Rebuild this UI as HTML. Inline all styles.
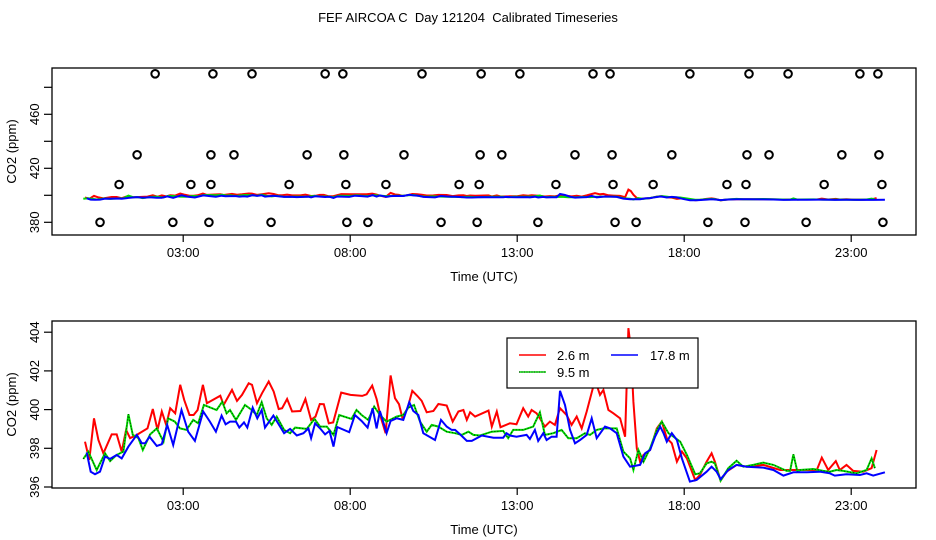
<!DOCTYPE html>
<html><head><meta charset="utf-8"><style>
html,body{margin:0;padding:0;background:#fff;}
svg{display:block;font-family:"Liberation Sans",sans-serif;}
#title{white-space:pre;}
</style></head><body>
<svg id="chart" width="936" height="540" viewBox="0 0 936 540" xmlns="http://www.w3.org/2000/svg">
<rect x="0" y="0" width="936" height="540" fill="#fff"/>
<text id="title" xml:space="preserve" x="468" y="22" font-size="13" text-anchor="middle">FEF AIRCOA C  Day 121204  Calibrated Timeseries</text>
<g id="top"></g><g id="bot"></g>
</svg>
<script>
// ---------- data ----------
const xTickHours = [3, 8, 13, 18, 23];
const xTickLabels = ["03:00", "08:00", "13:00", "18:00", "23:00"];
const topYTicks = [380, 400, 420, 440, 460, 480];
const topYLabels = ["380", "", "420", "", "460", ""];
const botYTicks = [396, 398, 400, 402, 404];
const botYLabels = ["396", "398", "400", "402", "404"];

const redHours = [0.06,0.19,0.33,0.46,0.61,0.86,1.01,1.16,1.29,1.41,1.61,1.93,2.09,2.23,2.36,2.49,2.61,2.76,2.91,3.03,3.19,3.31,3.43,3.59,3.71,4.11,4.21,4.46,4.61,4.76,4.96,5.06,5.21,5.36,5.56,5.71,5.86,5.96,6.11,6.26,6.51,6.66,6.83,6.96,7.09,7.21,7.36,7.49,7.73,8.01,8.36,8.49,8.66,8.79,8.91,9.06,9.21,9.34,9.46,9.56,9.71,9.86,10.01,10.14,10.29,10.49,10.64,10.89,11.07,11.24,11.39,11.49,11.59,11.74,12.14,12.24,12.39,12.50,12.78,12.98,13.18,13.33,13.43,13.58,13.68,13.83,13.98,14.13,14.28,14.48,14.63,14.78,14.93,15.08,15.33,15.48,15.58,15.73,15.88,16.08,16.23,16.33,16.40,16.48,16.58,16.68,16.78,16.98,17.18,17.33,17.48,17.63,17.78,17.93,18.08,18.33,18.47,18.67,18.82,18.92,19.09,19.27,19.57,19.87,20.37,20.87,21.27,21.67,21.97,22.12,22.31,22.54,22.66,22.86,23.06,23.36,23.61,23.76];
const redValues = [398.34,397.40,399.55,398.43,397.74,398.72,398.72,397.83,398.95,398.52,398.69,399.03,400.03,398.95,399.90,399.21,400.07,399.81,401.28,400.50,399.72,399.72,399.98,401.28,400.33,400.72,400.24,401.02,400.45,400.76,401.36,401.28,400.33,400.84,401.45,400.93,400.03,400.07,400.55,399.90,399.93,400.55,399.47,399.64,400.29,400.28,399.29,399.34,400.88,400.76,400.71,400.79,401.24,400.55,399.64,398.78,401.76,400.59,400.28,399.59,400.03,400.97,400.71,400.45,399.86,399.93,400.29,400.21,399.38,399.90,399.98,399.47,399.86,399.64,399.95,399.12,399.90,399.09,399.29,399.24,400.07,399.64,399.98,399.81,399.55,399.12,399.38,399.21,400.07,399.72,399.21,399.64,399.03,399.90,401.53,400.76,401.02,399.98,399.81,399.55,398.60,404.21,403.17,400.41,398.00,397.31,397.66,397.91,399.03,399.38,398.52,398.26,397.31,397.83,397.48,396.36,396.62,397.31,397.74,397.31,396.33,396.79,397.14,397.05,397.14,396.88,396.88,396.88,396.88,397.52,396.88,397.34,396.88,397.14,396.83,396.79,396.97,397.91];

const greenHours = [0.01,0.16,0.41,0.66,0.81,1.01,1.21,1.36,1.49,1.66,1.79,2.01,2.21,2.41,2.55,2.75,2.90,3.10,3.30,3.45,3.62,4.00,4.17,4.30,4.40,4.58,4.85,5.05,5.20,5.35,5.50,5.65,5.80,6.02,6.20,6.35,6.70,6.93,7.10,7.30,7.50,7.67,8.04,8.19,8.34,8.54,8.72,8.89,9.09,9.39,9.59,9.74,9.91,10.09,10.29,10.44,10.64,10.89,11.14,11.34,11.54,11.69,11.89,12.24,12.58,12.73,12.88,13.18,13.48,13.68,13.83,14.08,14.33,14.53,14.78,15.03,15.18,15.38,15.58,15.98,16.18,16.38,16.48,16.63,16.78,16.98,17.18,17.33,17.53,17.68,17.88,18.08,18.33,18.47,18.67,18.82,18.92,19.09,19.32,19.57,19.77,20.07,20.37,20.67,21.07,21.17,21.27,21.39,21.47,21.87,22.16,22.36,22.56,22.76,23.16,23.46,23.61,23.71];
const greenValues = [397.45,397.83,396.88,397.74,397.34,397.66,397.83,399.76,398.69,398.52,397.91,398.72,399.03,398.34,399.55,399.38,399.03,398.95,399.47,399.29,400.24,399.98,400.41,399.81,399.98,399.47,400.24,399.98,399.72,400.38,399.55,399.21,399.64,398.95,398.78,399.07,399.00,399.52,399.12,399.12,398.69,399.72,399.52,399.98,399.72,399.47,400.16,399.72,399.38,399.64,399.72,400.10,400.24,399.38,398.86,399.21,399.12,398.86,398.78,398.69,398.86,398.69,398.66,398.86,398.90,398.52,398.95,398.95,399.12,399.86,398.69,398.78,398.95,398.52,398.52,398.78,398.69,398.95,399.03,399.03,397.83,397.48,396.88,397.91,397.31,398.00,398.95,399.38,398.78,398.60,398.34,397.66,396.66,396.71,397.22,397.31,397.22,396.33,396.97,397.36,397.05,397.14,397.26,397.14,396.83,396.83,397.69,396.79,396.88,396.93,396.83,396.79,396.88,396.83,396.71,396.88,397.48,396.97];

const blueHours = [0.11,0.23,0.36,0.51,0.66,0.81,1.01,1.16,1.36,1.61,1.76,1.86,1.99,2.21,2.36,2.52,2.70,2.95,3.15,3.35,3.60,3.80,3.98,4.15,4.27,4.40,4.58,4.68,4.82,4.92,5.08,5.22,5.35,5.45,5.70,6.02,6.20,6.40,6.60,6.75,6.83,6.95,7.10,7.25,7.38,7.50,7.61,7.97,8.14,8.34,8.52,8.67,8.79,8.89,9.09,9.21,9.39,9.59,9.77,9.89,10.04,10.19,10.54,10.72,10.89,11.04,11.14,11.29,11.49,11.64,11.94,12.29,12.58,12.68,12.78,12.98,13.28,13.38,13.53,13.63,13.78,13.88,14.03,14.18,14.28,14.43,14.58,14.73,14.88,15.08,15.23,15.38,15.63,15.78,15.98,16.18,16.38,16.68,16.83,16.98,17.13,17.28,17.38,17.48,17.63,17.78,17.93,18.17,18.37,18.67,18.82,18.97,19.09,19.32,19.57,19.87,20.37,20.67,20.97,21.27,21.67,22.06,22.36,22.51,22.86,23.26,23.46,23.66,24.01];
const blueValues = [397.79,396.79,396.66,396.79,397.57,397.45,397.66,397.48,398.09,398.69,398.26,398.26,398.60,398.12,398.21,399.21,398.17,399.98,398.86,398.38,399.90,399.38,398.86,399.69,399.24,399.38,399.38,399.07,399.34,399.07,400.10,399.55,399.98,399.07,399.69,398.78,399.00,398.66,398.78,399.03,398.52,399.29,399.03,398.72,398.90,398.09,399.10,398.83,399.72,399.41,399.07,400.07,399.03,399.93,398.78,399.41,399.55,399.47,400.38,399.93,399.72,398.78,398.43,399.47,399.12,398.95,398.95,398.72,398.38,398.38,398.66,398.55,398.55,398.78,398.66,398.60,398.69,398.48,398.95,398.38,398.78,398.43,398.60,398.60,400.97,400.24,398.95,398.26,398.43,398.69,399.55,398.52,399.12,399.03,398.78,397.57,397.05,397.14,397.74,397.91,398.60,399.12,398.78,398.34,398.78,398.43,397.48,396.28,396.36,396.79,397.05,396.79,396.41,396.88,397.14,397.05,397.00,396.88,396.59,396.76,396.76,396.79,396.71,396.59,396.66,396.62,396.71,396.59,396.76];

const flagHours490 = [2.16,3.89,5.06,7.25,7.78,10.15,11.92,13.08,15.27,15.78,18.17,19.94,21.11,23.26,23.80];
const flagHours430 = [1.62,3.83,4.52,6.71,7.81,9.61,11.89,12.54,14.73,15.84,17.63,19.88,20.54,22.72,23.83];
const flagHours408 = [1.08,3.23,3.83,6.17,7.87,9.07,11.26,11.86,14.16,15.87,17.07,19.28,19.85,22.19,23.92];
const flagHours380 = [0.51,2.69,3.77,5.63,7.90,8.53,10.72,11.80,13.62,15.93,16.56,18.71,19.82,21.65,23.95];
const flagLevels = [490, 430, 408, 380];

// ---------- helpers ----------
const NS = "http://www.w3.org/2000/svg";
function mk(parent, tag, attrs, text) {
  const e = document.createElementNS(NS, tag);
  for (const k in attrs) e.setAttribute(k, attrs[k]);
  if (text !== undefined) e.textContent = text;
  parent.appendChild(e);
  return e;
}
const X0 = 52, X1 = 916;
function xScale(h) { return 83 + h * 33.4; }

function panel(g, top, bottom, yFn, yTicks, yLabels, prefix) {
  const box = mk(g, "rect", {x: X0, y: top, width: X1 - X0, height: bottom - top, fill: "none", stroke: "#000", "stroke-width": 1.3});
  
  
  xTickHours.forEach((h, i) => {
    const x = xScale(h);
    const t = mk(g, "line", {x1: x, x2: x, y1: bottom, y2: bottom + 7, stroke: "#000", "stroke-width": 1.2});
    
    
    const l = mk(g, "text", {x: x, y: bottom + 22, "font-size": 13, "text-anchor": "middle"}, xTickLabels[i]);
    
    
  });
  yTicks.forEach((v, i) => {
    const y = yFn(v);
    const t = mk(g, "line", {x1: X0 - 8, x2: X0, y1: y, y2: y, stroke: "#000", "stroke-width": 1.2});
    
    
    if (yLabels[i]) {
      const l = mk(g, "text", {x: 0, y: 0, "font-size": 13, "text-anchor": "middle", transform: `translate(39,${y}) rotate(-90)`}, yLabels[i]);
      
      
    }
  });
  const xt = mk(g, "text", {x: 484, y: bottom + 46, "font-size": 13, "text-anchor": "middle"}, "Time (UTC)");
  
  
  const yt = mk(g, "text", {x: 0, y: 0, "font-size": 13, "text-anchor": "middle", transform: `translate(16,${(top + bottom) / 2}) rotate(-90)`}, "CO2 (ppm)");
  
  
}
function series(g, hours, vals, yFn, color, name, dotted) {
  const pts = hours.map((h, i) => xScale(h).toFixed(1) + "," + yFn(vals[i]).toFixed(1)).join(" ");
  const p = mk(g, "polyline", {points: pts, fill: "none", stroke: color, "stroke-width": 2, "stroke-linejoin": "miter"});
  
  
  if (dotted) {
    const d = mk(g, "polyline", {points: pts, fill: "none", stroke: "#000", "stroke-width": 0.8, "stroke-dasharray": "1 2"});
    
    
  }
}

// ---------- top panel ----------
const gt = document.getElementById("top");
const yTop = v => 222.3 - (v - 380) * 1.35;
panel(gt, 68, 235, yTop, topYTicks, topYLabels, "top");
series(gt, redHours, redValues, yTop, "#f00", "top-series-2-6m", false);
series(gt, greenHours, greenValues, yTop, "#0d0", "top-series-9-5m", false);
series(gt, blueHours, blueValues, yTop, "#00f", "top-series-17-8m", false);
[flagHours490, flagHours430, flagHours408, flagHours380].forEach((arr, k) => {
  arr.forEach(h => {
    const c = mk(gt, "circle", {cx: xScale(h), cy: yTop(flagLevels[k]), r: 3.8, fill: "none", stroke: "#000", "stroke-width": 2});
    
    
  });
});

// ---------- bottom panel ----------
const gb = document.getElementById("bot");
const yBot = v => 487 - (v - 396) * 19.35;
panel(gb, 321, 488, yBot, botYTicks, botYLabels, "bottom");
const clip = mk(gb, "clipPath", {id: "cb"});
mk(clip, "rect", {x: X0, y: 321, width: X1 - X0, height: 167});
const gs = mk(gb, "g", {"clip-path": "url(#cb)"});
series(gs, redHours, redValues, yBot, "#f00", "series-2-6m", false);
series(gs, greenHours, greenValues, yBot, "#0d0", "series-9-5m", true);
series(gs, blueHours, blueValues, yBot, "#00f", "series-17-8m", false);

// legend
const lg = mk(gb, "g", {});


mk(lg, "rect", {x: 507, y: 338, width: 191, height: 50, fill: "#fff", stroke: "#000", "stroke-width": 1.2});
const entries = [["2.6 m", "#f00", 519, 355, false], ["17.8 m", "#00f", 611, 355, false], ["9.5 m", "#0d0", 519, 372, true]];
entries.forEach(e => {
  const le = mk(lg, "g", {});
  
  
  mk(le, "line", {x1: e[2], x2: e[2] + 27, y1: e[3], y2: e[3], stroke: e[1], "stroke-width": 1.5});
  if (e[4]) mk(le, "line", {x1: e[2], x2: e[2] + 27, y1: e[3], y2: e[3], stroke: "#000", "stroke-width": 0.7, "stroke-dasharray": "1 1.5"});
  mk(le, "text", {x: e[2] + (e[0] === "17.8 m" ? 39 : 38), y: e[3] + 5, "font-size": 13}, e[0]);
});
</script>
</body></html>
